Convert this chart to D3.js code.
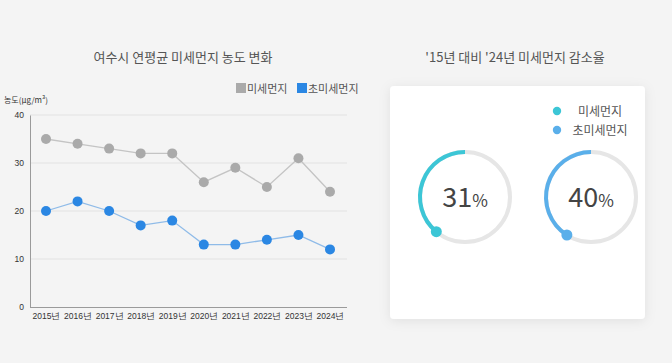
<!DOCTYPE html>
<html><head><meta charset="utf-8">
<script src="https://cdn.jsdelivr.net/npm/d3@7"></script>
<style>
html,body{margin:0;padding:0;background:#f4f4f4;}
svg{display:block;font-family:"Noto Sans CJK KR","Noto Sans",sans-serif;}
</style></head>
<body>
<svg id="c" width="672" height="363"></svg>
<script>
const years = ["2015","2016","2017","2018","2019","2020","2021","2022","2023","2024"];
const pm10 = [35,34,33,32,32,26,29,25,31,24];
const pm25 = [20,22,20,17,18,13,13,14,15,12];
const yTicks = [0,10,20,30,40];
const seriesNames = ["미세먼지","초미세먼지"];
const rates = [31,40];            // labels shown in the rings
const arcShares = [0.39,0.41];    // ring arc lengths

const svg = d3.select("#c");
svg.append("rect").attr("width",672).attr("height",363).attr("fill","#f4f4f4");

// ---------- Line chart ----------
const x = d3.scalePoint().domain(years).range([46,330]);
const y = d3.scaleLinear().domain([0,40]).range([307,115]);

svg.append("text").attr("x",183).attr("y",62).attr("text-anchor","middle")
  .attr("font-size",13).attr("fill","#555").text("여수시 연평균 미세먼지 농도 변화");

// grid
svg.append("g").selectAll("line").data(yTicks.filter(d=>d>0)).join("line")
  .attr("x1",30).attr("x2",347).attr("y1",d=>y(d)).attr("y2",d=>y(d))
  .attr("stroke","#e2e2e2").attr("stroke-width",1);

// y axis
const ya = svg.append("g").attr("transform","translate(30,0)")
  .call(d3.axisLeft(y).tickValues(yTicks).tickSize(0).tickPadding(6));
ya.select(".domain").attr("stroke","#9a9a9a");
ya.selectAll("text").attr("font-size",8.5).attr("fill","#333").attr("font-family","inherit");

// x axis
const xa = svg.append("g").attr("transform","translate(0,307)")
  .call(d3.axisBottom(x).tickSize(0).tickPadding(6).tickFormat(d=>d+"년"));
xa.select(".domain").attr("stroke","#9a9a9a").attr("d","M30,0.5H347");
xa.selectAll("text").attr("font-size",8.5).attr("fill","#333").attr("font-family","inherit");

svg.append("text").attr("x",4).attr("y",103).attr("font-size",8).attr("fill","#333")
  .text("농도(μg/m³)");

const line = d3.line().x((d,i)=>x(years[i])).y(d=>y(d));
const series = [
  {vals:pm10, line:"#c4c4c4", dot:"#aaaaaa"},
  {vals:pm25, line:"#8fbbe8", dot:"#2b87e3"}
];
series.forEach(s=>{
  svg.append("path").datum(s.vals).attr("d",line).attr("fill","none")
    .attr("stroke",s.line).attr("stroke-width",1.3);
  svg.append("g").selectAll("circle").data(s.vals).join("circle")
    .attr("cx",(d,i)=>x(years[i])).attr("cy",d=>y(d)).attr("r",5).attr("fill",s.dot);
});

// legend
const lg = [{x:236,c:"#aaaaaa"},{x:297,c:"#2b87e3"}];
lg.forEach((l,i)=>{
  svg.append("rect").attr("x",l.x).attr("y",83).attr("width",10).attr("height",10).attr("fill",l.c);
  svg.append("text").attr("x",l.x+11).attr("y",92.5).attr("font-size",11).attr("fill","#555")
    .text(seriesNames[i]);
});

// ---------- Right panel ----------
svg.append("text").attr("x",515).attr("y",62).attr("text-anchor","middle")
  .attr("font-size",13).attr("fill","#555").text("'15년 대비 '24년 미세먼지 감소율");

const defs = svg.append("defs");
const f = defs.append("filter").attr("id","sh").attr("x","-20%").attr("y","-20%").attr("width","140%").attr("height","140%");
f.append("feDropShadow").attr("dx",0).attr("dy",2).attr("stdDeviation",6).attr("flood-color","#000").attr("flood-opacity",0.08);

svg.append("rect").attr("x",390).attr("y",86).attr("width",255).attr("height",233).attr("rx",4)
  .attr("fill","#ffffff").attr("filter","url(#sh)");

const ringColors = ["#3cc6d6","#5aafea"];
const legY = [111,130];
seriesNames.forEach((n,i)=>{
  svg.append("circle").attr("cx",557).attr("cy",legY[i]).attr("r",4.2).attr("fill",ringColors[i]);
  svg.append("text").attr("x",600).attr("y",legY[i]+4.5).attr("text-anchor","middle")
    .attr("font-size",12).attr("fill","#555").text(n);
});

const centers = [465,591];
const R = 45;
const arc = d3.arc().innerRadius(R-2).outerRadius(R+2);
rates.forEach((r,i)=>{
  const g = svg.append("g").attr("transform",`translate(${centers[i]},197)`);
  g.append("circle").attr("r",R).attr("fill","none").attr("stroke","#e6e6e6").attr("stroke-width",4);
  const a = -arcShares[i]*2*Math.PI;
  g.append("path").attr("d",arc({startAngle:a,endAngle:0})).attr("fill",ringColors[i]);
  g.append("circle").attr("cx",R*Math.sin(a)).attr("cy",-R*Math.cos(a)).attr("r",5.5).attr("fill",ringColors[i]);
  const t = g.append("text").attr("text-anchor","middle").attr("y",10).attr("fill","#444");
  t.append("tspan").attr("font-size",27).text(r);
  t.append("tspan").attr("font-size",17).text("%");
});
</script>
</body></html>
